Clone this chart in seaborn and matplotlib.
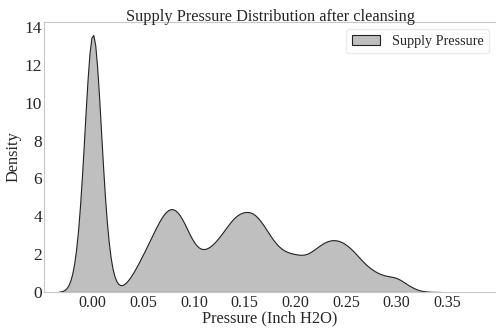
import numpy as np
import pandas as pd
import matplotlib
matplotlib.use("Agg")
import matplotlib.pyplot as plt
import seaborn as sns

# Supply pressure readings (Inch H2O) and how often each value occurs
pressure_vals = [-0.01, 0.00, 0.01, 0.02, 0.03, 0.04, 0.05, 0.06, 0.07, 0.08,
                 0.09, 0.10, 0.11, 0.12, 0.13, 0.14, 0.15, 0.16, 0.17, 0.18,
                 0.19, 0.20, 0.21, 0.22, 0.23, 0.24, 0.25, 0.26, 0.27, 0.28,
                 0.29, 0.30, 0.31, 0.32]
counts = [3.1, 23.0, 3.1, 0.08, 0.15, 0.95, 2.02, 3.11, 4.30, 4.68,
          3.83, 2.31, 2.07, 2.52, 3.24, 4.08, 4.30, 4.27, 3.43, 2.50,
          2.06, 2.02, 1.83, 2.30, 2.73, 2.82, 2.58, 2.02, 1.36, 1.01,
          0.79, 0.86, 0.38, 0.08]
x_ticks = [0.0, 0.05, 0.10, 0.15, 0.20, 0.25, 0.30, 0.35]
x_tick_labels = ["0.00", "0.05", "0.10", "0.15", "0.20", "0.25", "0.30", "0.35"]
y_ticks = [0, 2, 4, 6, 8, 10, 12, 14]

df = pd.DataFrame({"Supply Pressure": pressure_vals, "count": counts})

sns.set_style("white")
plt.rcParams["font.family"] = ["Liberation Serif", "DejaVu Serif"]

# bandwidth of about 0.0075 Inch H2O
std = np.sqrt(np.cov(df["Supply Pressure"], aweights=df["count"]))
bw = 0.0075 / std

fig = plt.figure(figsize=(4.96, 3.32), dpi=100)
ax = fig.add_axes([0.089, 0.1205, 0.911, 0.813])

sns.kdeplot(data=df, x="Supply Pressure", weights="count", bw_method=bw,
            fill=True, color="gray", alpha=0.5, edgecolor="#222222",
            linewidth=0.8, label="Supply Pressure", ax=ax)

ax.set_xlim(-0.048, 0.398)
ax.set_xticks(x_ticks)
ax.set_xticklabels(x_tick_labels)
ax.set_yticks(y_ticks)
ax.tick_params(axis="x", labelsize=11.5, length=0, pad=2)
ax.tick_params(axis="y", labelsize=12.5, length=0, pad=1.5)

for side in ["left", "bottom", "top"]:
    ax.spines[side].set_color("0.78")
ax.spines["right"].set_visible(False)

ax.set_title("Supply Pressure Distribution after cleansing", fontsize=11.8, pad=1)
ax.set_xlabel("Pressure (Inch H2O)", fontsize=11.8, labelpad=0)
ax.set_ylabel("Density", fontsize=11.8, labelpad=2)
leg = ax.legend(loc="upper right", fontsize=10.2)
leg.get_frame().set_edgecolor("0.9")

plt.savefig("out.png", dpi=100)
